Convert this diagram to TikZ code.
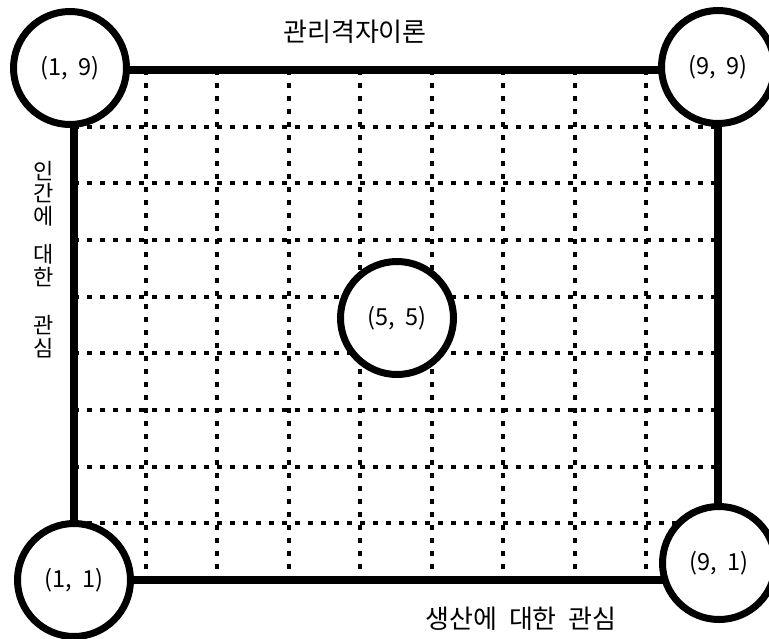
\documentclass[tikz,border=0pt]{standalone}
\usepackage{fontspec}
\setmainfont{Noto Sans CJK KR}
\begin{document}
\begin{tikzpicture}[x=1pt,y=-1pt,
  frame/.style={line width=7.5pt},
  gridline/.style={line width=4pt, dash pattern=on 5pt off 8pt},
  corner/.style={circle, draw, line width=7pt, fill=white, minimum size=113pt, inner sep=0pt, font=\fontsize{23.5}{26}\selectfont},
  lab/.style={font=\fontsize{26}{28}\selectfont, inner sep=0pt}]
\useasboundingbox (0,0) rectangle (769,638);
\begin{scope}
\clip (0,0) rectangle (769,638);
\coordinate (A) at (74,70);
\coordinate (B) at (718,70);
\coordinate (C) at (718,580);
\coordinate (D) at (74,580);
\foreach \k in {1,...,8} {
  \draw[gridline] ({74+\k*644/9},70) -- ({74+\k*644/9},580);
  \draw[gridline] (74,{70+\k*510/9}) -- (718,{70+\k*510/9});
}
\draw[frame] (A) -- (B) -- (C) -- (D) -- cycle;
\node[corner] (n19) at (70,68) {(1,\ \ 9)};
\node[corner] (n99) at (718,67) {(9,\ \ 9)};
\node[corner] (n11) at (74,580) {(1,\ \ 1)};
\node[corner] (n91) at (719,563) {(9,\ \ 1)};
\node[corner] (n55) at (397,318) {(5,\ \ 5)};
\end{scope}
\node[lab] (title) at (355,32) {관리격자이론};
\node[lab] (xlab) at (521,619) {생산에\hspace{0.45em}대한\hspace{0.45em}관심};
\node[lab, anchor=north, align=center, font=\fontsize{22}{22.5}\selectfont] (ylab) at (44,161) {인\\간\\에\\[16pt]대\\한\\[26pt]관\\심};
\end{tikzpicture}
\end{document}
